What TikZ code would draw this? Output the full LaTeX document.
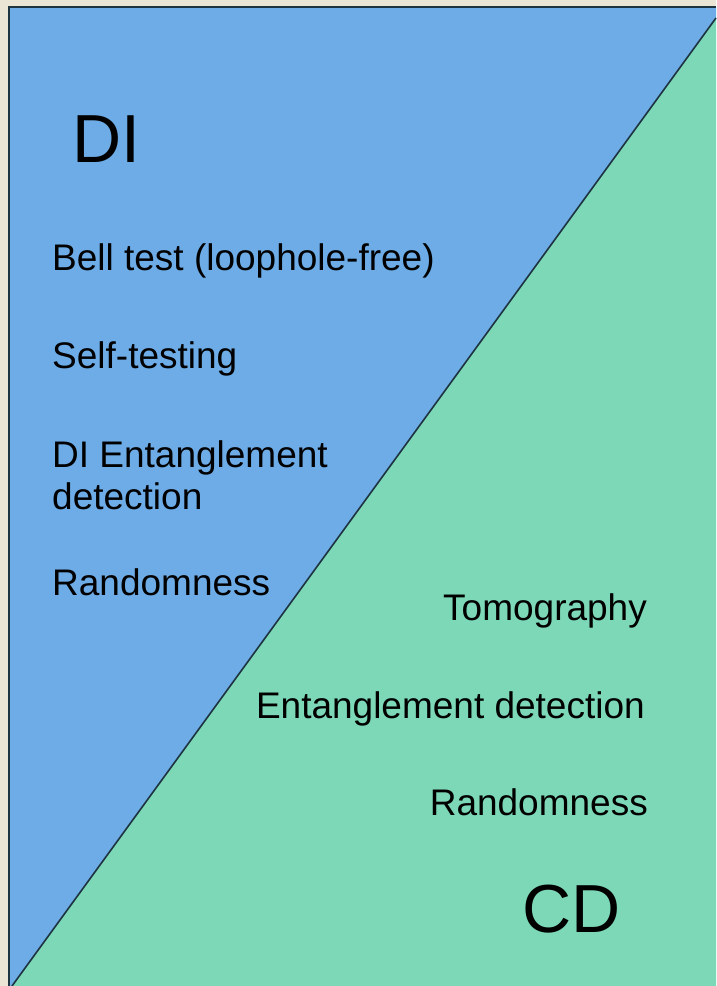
\documentclass[tikz,border=0pt]{standalone}
\usepackage{fontspec}
\setmainfont{Liberation Sans}
\definecolor{bgbeige}{HTML}{EBE5D6}
\definecolor{diblue}{HTML}{6DACE6}
\definecolor{cdgreen}{HTML}{7CD8B6}
\definecolor{edgedark}{HTML}{1D3340}
\begin{document}
\begin{tikzpicture}[x=1pt,y=-1pt,
  item/.style={inner sep=0pt, font=\fontsize{37}{42}\selectfont, text=black},
  big/.style={inner sep=0pt, font=\fontsize{68}{80}\selectfont, text=black}]
\useasboundingbox (0,0) rectangle (716,986);
\fill[bgbeige] (0,0) rectangle (716,986);
\coordinate (tl) at (9,7);
\coordinate (tr) at (716,7);
\coordinate (bl) at (9,986);
\coordinate (br) at (716,986);
\coordinate (dtop) at (716,18);
\coordinate (dbot) at (12,986);
\fill[diblue] (tl) -- (tr) -- (dtop) -- (dbot) -- (bl) -- cycle;
\fill[cdgreen] (dtop) -- (br) -- (dbot) -- cycle;
\draw[edgedark, line width=1.6pt] (dtop) -- (dbot);
\draw[edgedark, line width=2pt] (bl) -- (tl) -- (tr);
\node[big, anchor=base west] (di) at (72,162) {DI};
\node[big, anchor=base west] (cd) at (522,932) {CD};
\node[item, anchor=base west] (bell) at (52,270) {Bell test (loophole-free)};
\node[item, anchor=base west] (self) at (52,368) {Self-testing};
\node[item, anchor=base west, align=left] (dient) at (52,509) {DI Entanglement\\detection};
\node[item, anchor=base west] (rand1) at (52,595) {Randomness};
\node[item, anchor=base east] (tomo) at (647,620) {Tomography};
\node[item, anchor=base east] (ent) at (645,718) {Entanglement detection};
\node[item, anchor=base east] (rand2) at (648,815) {Randomness};
\end{tikzpicture}
\end{document}
